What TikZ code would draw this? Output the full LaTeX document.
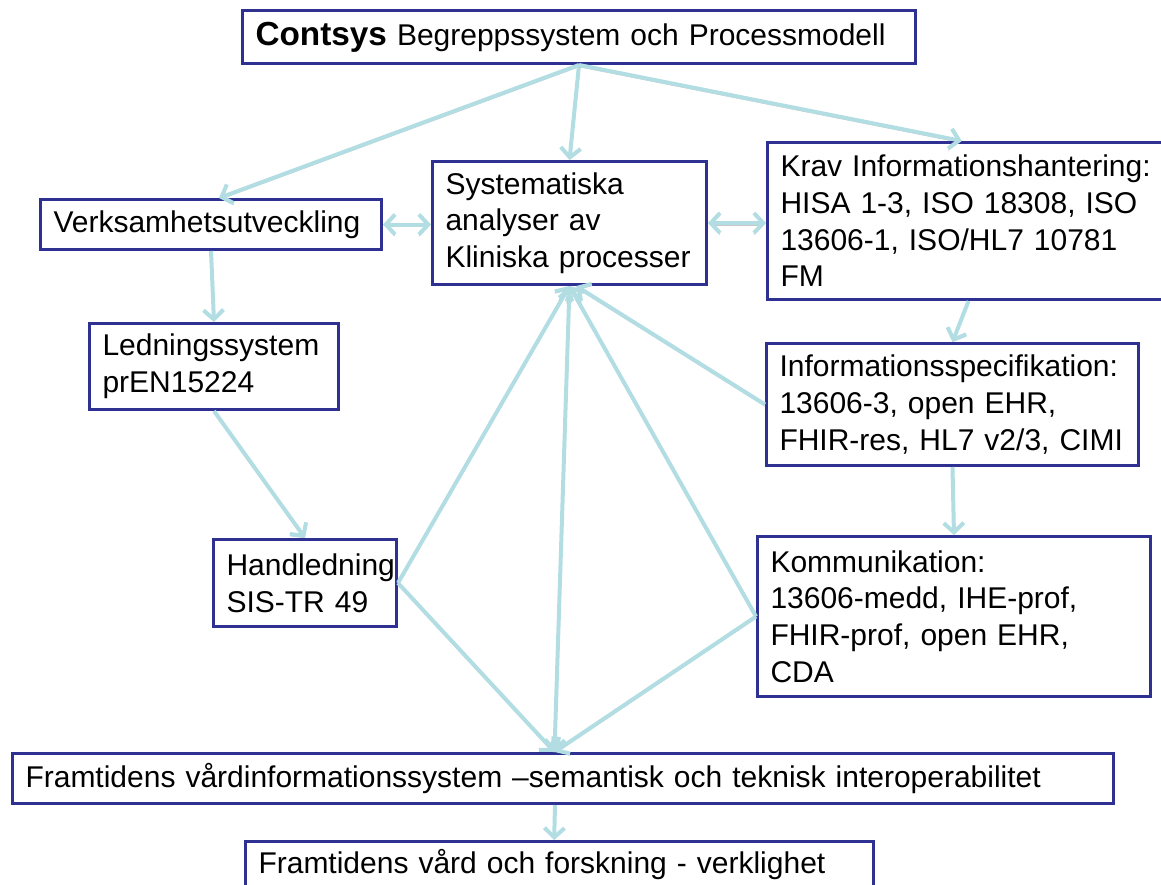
\documentclass[tikz,border=0pt]{standalone}
\usepackage{fontspec}
\setmainfont{Liberation Sans}
\usetikzlibrary{arrows.meta,calc}
\definecolor{boxblue}{RGB}{46,49,146}
\definecolor{flow}{RGB}{178,221,226}

\begin{document}
\begin{tikzpicture}[x=0.75pt,y=-0.75pt,
  box/.style={draw=boxblue, line width=2.25pt, fill=white, anchor=north west,
    inner xsep=9.75pt, inner ysep=0pt, align=left,
    font=\fontsize{22.5pt}{27.5pt}\selectfont},
  tip/.tip={Straight Barb[length=7pt,width=15pt]},
  shade/.style={preaction={draw=black, opacity=0.22,
    transform canvas={yshift=-1.4pt}}},
  flowline/.style={draw=flow, line width=3pt, shade, -tip},
  both/.style={draw=flow, line width=3pt, shade, tip-tip}
]
\useasboundingbox (0,0) rectangle (1161,885);
\clip (0,0) rectangle (1161,885);

% boxes
\node[box, text width=485.25pt, minimum height=39.75pt] (top) at (241,9)
  {{\fontsize{25pt}{27.5pt}\selectfont\bfseries Contsys} Begreppssystem och Processmodell};
\node[box, text width=236.25pt, minimum height=37.5pt] (verk) at (39,198)
  {Verksamhetsutveckling};
\node[box, text width=186pt, minimum height=92.25pt] (syst) at (431,160)
  {Systematiska\\analyser av\\Kliniska processer};
\node[box, text width=282pt, minimum height=117.75pt] (krav) at (766,141)
  {Krav Informationshantering:\\HISA 1-3, ISO 18308, ISO\\13606-1, ISO/HL7 10781\\FM};
\node[box, text width=167.25pt, minimum height=64.5pt] (led) at (88,322)
  {Ledningssystem\\prEN15224};
\node[box, text width=117.75pt, minimum height=65.25pt] (hand) at (212,538)
  {Handledning\\SIS-TR 49};
\node[box, text width=259.5pt, minimum height=91.5pt] (info) at (765,342)
  {Informationsspecifikation:\\13606-3, open EHR,\\FHIR-res, HL7 v2/3, CIMI};
\node[box, text width=275.25pt, minimum height=120pt] (komm) at (756,535)
  {Kommunikation:\\13606-medd, IHE-prof,\\FHIR-prof, open EHR,\\CDA};
\node[box, text width=806.25pt, minimum height=37.5pt] (fram) at (11,752)
  {Framtidens vårdinformationssystem –semantisk och teknisk interoperabilitet};
\node[box, text width=451.5pt, text height=24pt, text depth=30pt] (real) at (244,840)
  {Framtidens vård och forskning - verklighet};

% connectors
\coordinate (fin) at ([xshift=-6.4pt]fram.north);
\draw[flowline] (top.south) -- ([xshift=6pt]verk.north);
\draw[flowline] (top.south) -- (syst.north);
\draw[flowline] (top.south) -- ([xshift=-5pt]krav.north);
\draw[both] (verk.east) -- (verk.east -| syst.west);
\draw[both] (syst.east) -- (syst.east -| krav.west);
\draw[flowline] (verk.south) -- (led.north);
\draw[flowline] (krav.south) -- (info.north);
\draw[flowline] (led.south) -- (hand.north);
\draw[flowline] (info.south) -- (komm.north);
\draw[flowline] (hand.east) -- (syst.south);
\draw[flowline] (hand.east) -- (fin);
\draw[both] (syst.south) -- (fin);
\draw[flowline] (komm.west) -- (syst.south);
\draw[flowline] (komm.west) -- (fin);
\draw[flowline] (info.west) -- ([xshift=5pt]syst.south);
\draw[flowline] ([xshift=-6pt]fram.south) -- ([xshift=-4pt]real.north);
\end{tikzpicture}
\end{document}
